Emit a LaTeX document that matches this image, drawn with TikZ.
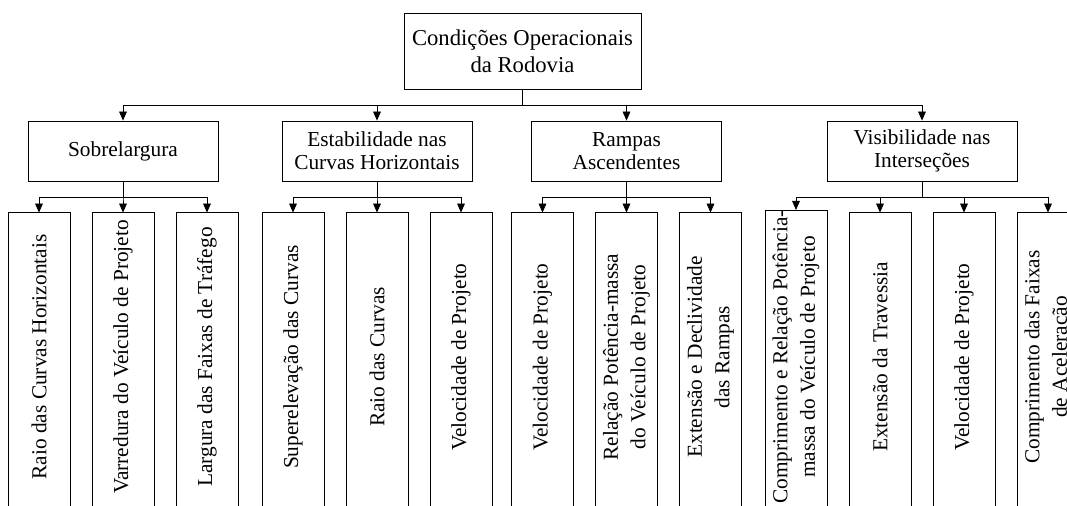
\documentclass[tikz,border=0pt]{standalone}
\usepackage{fontspec}
\setmainfont{Liberation Serif}
\usetikzlibrary{arrows.meta}

\tikzset{
  topbox/.style={draw, align=center, minimum width=177.75pt, minimum height=57pt, inner sep=0pt, font=\fontsize{17}{20}\selectfont},
  midbox/.style={draw, align=center, minimum width=142.5pt, minimum height=45pt, inner sep=0pt, font=\fontsize{16}{17.5}\selectfont},
  leaf/.style={rotate=90, align=center, minimum width=216pt, minimum height=45.75pt, inner sep=0pt, font=\fontsize{16}{20.5}\selectfont},
  link/.style={-{Triangle[length=6.75pt,width=5.75pt]}},
}

\begin{document}
\begin{tikzpicture}[x=0.75pt, y=-0.75pt, line width=0.6pt]
\clip (0,0) rectangle (1067,506);

\node[topbox] (cond) at (522.5,51) {Condições Operacionais\\da Rodovia};

\node[midbox] (sob) at (123,151) {Sobrelargura};
\node[midbox] (est) at (377,151) {Estabilidade nas\\Curvas Horizontais};
\node[midbox] (ram) at (626.5,151) {Rampas\\Ascendentes};
\node[midbox] (vis) at (922,151) {Visibilidade nas\\Interseções};

\foreach \p in {sob,est,ram,vis}
  \draw[link] (cond.south) -- ++(0,16) -| (\p.north);

% leaves: x / name / parent / text
\foreach \x/\n/\p/\t in {
    39/sob1/sob/{Raio das Curvas Horizontais},
    123/sob2/sob/{Varredura do Veículo de Projeto},
    207/sob3/sob/{Largura das Faixas de Tráfego},
    293/est1/est/{Superelevação das Curvas},
    377/est2/est/{Raio das Curvas},
    461/est3/est/{Velocidade de Projeto},
    542.5/ram1/ram/{Velocidade de Projeto},
    626.5/ram2/ram/{Relação Potência-massa\\do Veículo de Projeto},
    710.5/ram3/ram/{Extensão e Declividade\\das Rampas},
    796/vis1/vis/{Comprimento e Relação Potência-\\massa do Veículo de Projeto},
    880/vis2/vis/{Extensão da Travessia},
    964/vis3/vis/{Velocidade de Projeto},
    1048/vis4/vis/{Comprimento das Faixas\\de Aceleração}}{
  \node[leaf] (\n) at (\x,357) {\t};
  \draw ([yshift=-60pt]\n.north west) -- (\n.north east) -- (\n.south east) -- ([yshift=-60pt]\n.south west);
  \draw[link] (\p.south) -- ++(0,16) -| (\n.east);
}
\end{tikzpicture}
\end{document}
